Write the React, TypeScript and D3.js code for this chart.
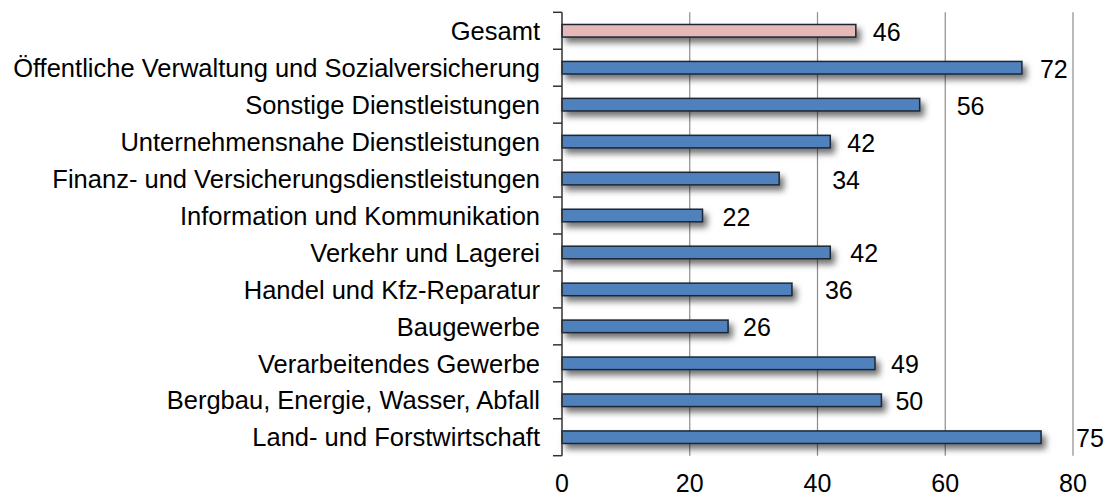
import React from "react";
import * as d3 from "d3";

const categories = [
  "Gesamt",
  "Öffentliche Verwaltung und Sozialversicherung",
  "Sonstige Dienstleistungen",
  "Unternehmensnahe Dienstleistungen",
  "Finanz- und Versicherungsdienstleistungen",
  "Information und Kommunikation",
  "Verkehr und Lagerei",
  "Handel und Kfz-Reparatur",
  "Baugewerbe",
  "Verarbeitendes Gewerbe",
  "Bergbau, Energie, Wasser, Abfall",
  "Land- und Forstwirtschaft",
];
const values = [46, 72, 56, 42, 34, 22, 42, 36, 26, 49, 50, 75];
const xTicks = [0, 20, 40, 60, 80];

// layout: horizontal offset of each value label from its bar end (as in the original)
const labelGap = [17, 18, 37, 17, 53, 20, 20, 33, 15, 16, 14, 35];

const W = 1107;
const H = 497;
const left = 562;
const right = 1073;
const top = 12.3;
const bottom = 455.7;

export default function App() {
  const x = d3.scaleLinear().domain([0, 80]).range([left, right]);
  const y = d3
    .scaleBand<string>()
    .domain(categories)
    .range([top, bottom])
    .paddingInner(0.66)
    .paddingOuter(0.33);
  const boundaries = d3.range(categories.length + 1).map((i) => top + (i * (bottom - top)) / categories.length);
  const font = "'Liberation Sans', Arial, sans-serif";

  return (
    <svg
      width={W}
      height={H}
      style={{ position: "absolute", left: 0, top: 0, background: "#fff" }}
      fontFamily={font}
    >
      <defs>
        <filter id="shadow" x="-10%" y="-60%" width="130%" height="280%">
          <feDropShadow dx="4" dy="5" stdDeviation="3" floodColor="#000" floodOpacity="0.55" />
        </filter>
      </defs>
      {/* gridlines */}
      {xTicks.slice(1).map((t) => (
        <line key={t} x1={x(t)} x2={x(t)} y1={top} y2={bottom} stroke="#8c8c8c" strokeWidth={1.2} />
      ))}
      {/* bars */}
      {categories.map((c, i) => (
        <rect
          key={c}
          x={x(0)}
          y={y(c)!}
          width={x(values[i]) - x(0)}
          height={y.bandwidth()}
          fill={i === 0 ? "#E6B9B8" : "#4F81BD"}
          stroke="#1b2636"
          strokeWidth={1.5}
          filter="url(#shadow)"
        />
      ))}
      {/* y axis */}
      <line x1={left} x2={left} y1={top} y2={bottom} stroke="#333" strokeWidth={1.5} />
      {boundaries.map((b, i) => (
        <line key={i} x1={left - 9} x2={left} y1={b} y2={b} stroke="#333" strokeWidth={1.5} />
      ))}
      {/* category labels */}
      {categories.map((c) => (
        <text
          key={c}
          x={540}
          y={y(c)! + y.bandwidth() / 2}
          dy="0.36em"
          textAnchor="end"
          fontSize={25.5}
          fill="#000"
        >
          {c}
        </text>
      ))}
      {/* value labels */}
      {categories.map((c, i) => (
        <text
          key={c}
          x={x(values[i]) + labelGap[i]}
          y={y(c)! + y.bandwidth() / 2 + 1}
          dy="0.36em"
          fontSize={25}
          fill="#000"
        >
          {values[i]}
        </text>
      ))}
      {/* x tick labels */}
      {xTicks.map((t) => (
        <text key={t} x={x(t)} y={492} textAnchor="middle" fontSize={25} fill="#000">
          {t}
        </text>
      ))}
    </svg>
  );
}
